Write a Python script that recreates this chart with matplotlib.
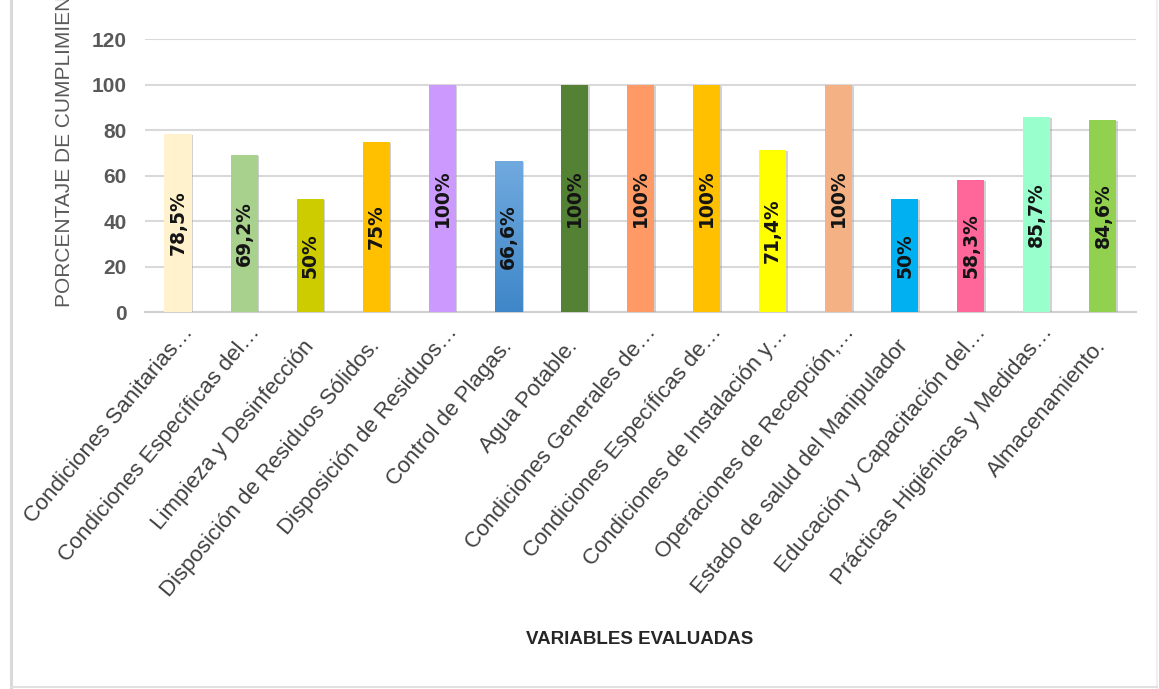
import numpy as np
import matplotlib
matplotlib.use("Agg")
import matplotlib.pyplot as plt
import matplotlib.patheffects as pe
import matplotlib.transforms as mtransforms
from matplotlib.colors import LinearSegmentedColormap
from matplotlib.lines import Line2D

# ---- data ---------------------------------------------------------------
variables = [
    "Condiciones Sanitarias…",
    "Condiciones Específicas del…",
    "Limpieza y Desinfección",
    "Disposición de Residuos Sólidos.",
    "Disposición de Residuos…",
    "Control de Plagas.",
    "Agua Potable.",
    "Condiciones Generales de…",
    "Condiciones Específicas de…",
    "Condiciones de Instalación y…",
    "Operaciones de Recepción,…",
    "Estado de salud del Manipulador",
    "Educación y Capacitación del…",
    "Prácticas Higiénicas y Medidas…",
    "Almacenamiento.",
]
cumplimiento = [78.5, 69.2, 50, 75, 100, 66.6, 100, 100, 100, 71.4, 100, 50, 58.3, 85.7, 84.6]
colores = ["#FFF2CC", "#A9D18E", "#CCCC00", "#FFC000", "#CC99FF", "#5B9BD5", "#548235",
           "#FF9966", "#FFC000", "#FFFF00", "#F4B183", "#00B0F0", "#FF6699", "#99FFCC",
           "#92D050"]
yticks = [0, 20, 40, 60, 80, 100, 120]

# ---- figure ---------------------------------------------------------------
fig = plt.figure(figsize=(11.59, 6.89), dpi=100)
ax = fig.add_axes([0.1251, 0.5468, 0.8550, 0.3962])

x = np.arange(len(variables))
bars = ax.bar(x, cumplimiento, width=0.41, color=colores, zorder=3)
for b in bars:
    b.set_path_effects([pe.SimplePatchShadow(offset=(1.2, -0.8), shadow_rgbFace="#9a9a9a", alpha=0.45),
                        pe.Normal()])

# gradient fill on the "Control de Plagas" bar
blue = bars[5]
grad = LinearSegmentedColormap.from_list("azul", ["#3F87C9", "#70A9DE"])
img = ax.imshow(np.linspace(0, 1, 100).reshape(-1, 1), cmap=grad, origin="lower", aspect="auto",
                extent=(blue.get_x(), blue.get_x() + blue.get_width(), 0, blue.get_height()), zorder=3.5)
img.set_clip_path(blue)

# value labels inside the bars
for xi, v in zip(x, cumplimiento):
    txt = ("%g" % v).replace(".", ",") + "%"
    ax.text(xi, v / 2, txt, rotation=90, ha="center", va="center", fontsize=13.5,
            fontweight="bold", family="DejaVu Sans", color="#141414", zorder=4)

ax.set_xlim(-0.5, len(variables) - 0.5)
ax.set_ylim(0, 120)
ax.set_yticks(yticks)
ax.yaxis.grid(True, color="#D9D9D9", linewidth=1.5, zorder=0)
ax.set_axisbelow(True)
for s in ["top", "right", "left"]:
    ax.spines[s].set_visible(False)
ax.spines["bottom"].set_color("#D0D0D0")
ax.spines["bottom"].set_linewidth(1.5)

ax.tick_params(axis="y", length=0, pad=13)
for lab in ax.get_yticklabels():
    lab.set_family("Liberation Sans")
    lab.set_fontweight("bold")
    lab.set_fontsize(15)
    lab.set_color("#595959")

ax.set_xticks(x)
ax.set_xticklabels(variables, rotation=50, ha="right", va="center", rotation_mode="anchor",
                   fontsize=16, family="Liberation Sans", color="#404040")
ax.tick_params(axis="x", length=0, pad=22)
# truncated names sit a bit further along their own direction
shift = mtransforms.ScaledTranslation(0.12, 0.14, fig.dpi_scale_trans)
for lab in ax.get_xticklabels():
    if lab.get_text().endswith("…"):
        lab.set_transform(lab.get_transform() + shift)

fig.text(65 / 1159, 1 - 307 / 689, "PORCENTAJE DE CUMPLIMIENTO", rotation=90, ha="center",
         va="bottom", fontsize=15, family="Liberation Sans", color="#595959")
fig.text(640 / 1159, 1 - 639 / 689, "VARIABLES EVALUADAS", ha="center", va="center",
         fontsize=13.5, fontweight="bold", family="Liberation Sans", color="#262626")

# outer chart frame
fig.add_artist(Line2D([0.0095, 0.0095], [0, 1], transform=fig.transFigure, color="#D9D9D9", linewidth=2.2))
fig.add_artist(Line2D([0.9985, 0.9985], [0, 1], transform=fig.transFigure, color="#EDEDED", linewidth=1.2))
fig.add_artist(Line2D([0.0095, 0.9985], [0.003, 0.003], transform=fig.transFigure, color="#E0E0E0", linewidth=1.5))

fig.savefig("out.png", dpi=100)
